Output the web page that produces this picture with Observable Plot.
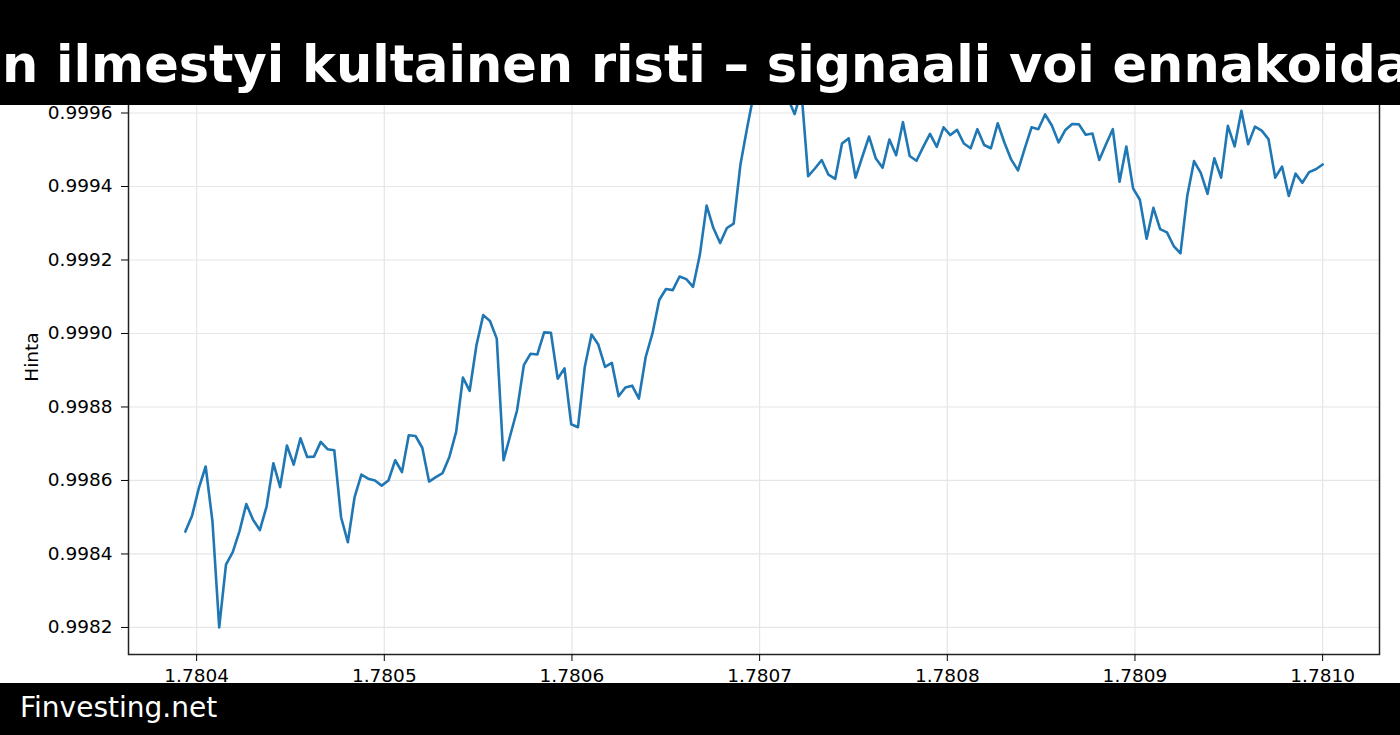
<!DOCTYPE html>
<html>
<head>
<meta charset="utf-8">
<script src="https://cdn.jsdelivr.net/npm/d3@7"></script>
<script src="https://cdn.jsdelivr.net/npm/@observablehq/plot@0.6"></script>
<style>
  html, body { margin: 0; padding: 0; background: #fff; }
  #wrap { position: relative; width: 1400px; height: 735px; overflow: hidden; background: #fff; }
  #chart { position: absolute; left: 0; top: 0; }
  #banner { position: absolute; left: 0; top: 0; width: 1400px; height: 105px; background: #000; overflow: hidden; }
  #title { position: absolute; left: 2px; top: 39px; white-space: nowrap; color: #fff;
           font-family: "DejaVu Sans", sans-serif; font-weight: bold; font-size: 51px; line-height: 1; }
  #footer { position: absolute; left: 0; top: 683px; width: 1400px; height: 52px; background: #000; overflow: hidden; }
  #brand { position: absolute; left: 20px; top: 11px; white-space: nowrap; color: #fff;
           font-family: "DejaVu Sans", sans-serif; font-size: 28px; line-height: 1; }
</style>
</head>
<body>
<div id="wrap">
  <div id="chart"></div>
  <div id="banner"><div id="title">n ilmestyi kultainen risti – signaali voi ennakoida</div></div>
  <div id="footer"><div id="brand">Finvesting.net</div></div>
</div>
<script>
// x range of the series (first and last observation)
const xFirst = 1.780394;
const xLast = 1.7810;
// price series (Hinta)
const hinta = [
  0.998461, 0.998505, 0.998580, 0.998638, 0.998489, 0.998200, 0.998371, 0.998405, 0.998462, 0.998536,
  0.998493, 0.998465, 0.998529, 0.998647, 0.998582, 0.998695, 0.998643, 0.998715, 0.998664, 0.998665,
  0.998705, 0.998685, 0.998682, 0.998500, 0.998432, 0.998555, 0.998616, 0.998605, 0.998600, 0.998586,
  0.998600, 0.998655, 0.998623, 0.998723, 0.998721, 0.998689, 0.998597, 0.998609, 0.998620, 0.998664,
  0.998732, 0.998880, 0.998844, 0.998968, 0.999050, 0.999034, 0.998986, 0.998655, 0.998723, 0.998791,
  0.998914, 0.998945, 0.998943, 0.999003, 0.999002, 0.998877, 0.998905, 0.998753, 0.998745, 0.998909,
  0.998997, 0.998970, 0.998909, 0.998920, 0.998829, 0.998853, 0.998858, 0.998823, 0.998936, 0.999000,
  0.999091, 0.999121, 0.999118, 0.999155, 0.999148, 0.999127, 0.999214, 0.999348, 0.999287, 0.999246,
  0.999287, 0.999299, 0.999460, 0.999561, 0.999655, 0.999625, 0.999628, 0.999650, 0.999672, 0.999640,
  0.999597, 0.999660, 0.999428, 0.999449, 0.999472, 0.999432, 0.999421, 0.999517, 0.999531, 0.999424,
  0.999481, 0.999536, 0.999476, 0.999451, 0.999528, 0.999485, 0.999575, 0.999483, 0.999470, 0.999508,
  0.999543, 0.999508, 0.999561, 0.999540, 0.999554, 0.999517, 0.999504, 0.999556, 0.999513, 0.999504,
  0.999572, 0.999519, 0.999473, 0.999444, 0.999504, 0.999561, 0.999556, 0.999596, 0.999566, 0.999520,
  0.999554, 0.999570, 0.999569, 0.999541, 0.999544, 0.999472, 0.999515, 0.999556, 0.999413, 0.999509,
  0.999395, 0.999364, 0.999258, 0.999342, 0.999284, 0.999275, 0.999238, 0.999218, 0.999374, 0.999469,
  0.999437, 0.999380, 0.999477, 0.999424, 0.999565, 0.999509, 0.999606, 0.999515, 0.999563, 0.999552,
  0.999529, 0.999424, 0.999454, 0.999374, 0.999435, 0.999410, 0.999439, 0.999447, 0.999460
];
const xTicks = [1.7804, 1.7805, 1.7806, 1.7807, 1.7808, 1.7809, 1.7810];
const yTicks = [0.9982, 0.9984, 0.9986, 0.9988, 0.9990, 0.9992, 0.9994, 0.9996];
const yLabel = "Hinta";

const n = hinta.length;
const data = hinta.map((v, i) => ({x: xFirst + (xLast - xFirst) * i / (n - 1), y: v}));

const xPad = (xLast - xFirst) * 0.05;
const yMin = d3.min(hinta), yMax = d3.max(hinta);
const yPad = (yMax - yMin) * 0.05;

const chart = Plot.plot({
  width: 1400,
  height: 735,
  marginLeft: 128,
  marginRight: 21,
  marginTop: 59,
  marginBottom: 81,
  style: {fontFamily: "DejaVu Sans, sans-serif", fontSize: "18.5px", color: "#000", background: "#fff"},
  x: {domain: [xFirst - xPad, xLast + xPad]},
  y: {domain: [yMin - yPad, yMax + yPad]},
  marks: [
    Plot.gridX(xTicks, {stroke: "#e6e6e6", strokeOpacity: 1, strokeWidth: 1.2}),
    Plot.gridY(yTicks, {stroke: "#e6e6e6", strokeOpacity: 1, strokeWidth: 1.2}),
    Plot.line(data, {x: "x", y: "y", stroke: "#1f77b4", strokeWidth: 2.6}),
    Plot.frame({stroke: "#222", strokeWidth: 1.5}),
    Plot.axisX({ticks: xTicks, tickSize: 7, tickPadding: 7, tickFormat: d => d.toFixed(4), label: null, fontSize: 18.5}),
    Plot.axisY({ticks: yTicks, tickSize: 7, tickPadding: 9, tickFormat: d => d.toFixed(4),
                label: yLabel, labelAnchor: "center", labelArrow: "none", labelOffset: 104, fontSize: 18.5})
  ]
});
document.getElementById("chart").appendChild(chart);
</script>
</body>
</html>
